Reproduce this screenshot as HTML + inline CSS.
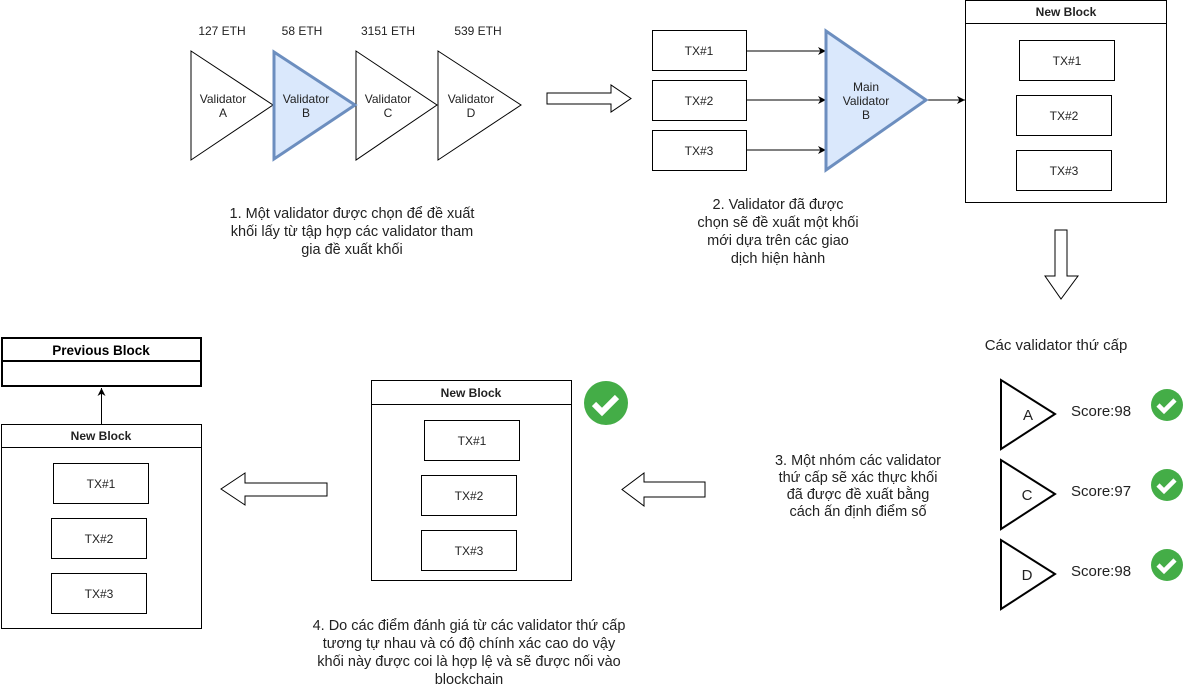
<!DOCTYPE html>
<html><head><meta charset="utf-8"><style>
html,body{margin:0;padding:0;background:#fff;}
svg{display:block;font-family:"Liberation Sans",Arial,sans-serif;}
text{font-size:12px;fill:#222;}
.t13{font-size:14.5px;}
.t15{font-size:15px;}
</style></head><body>
<svg width="1195" height="687" viewBox="0 0 1195 687" xmlns="http://www.w3.org/2000/svg">
<defs>
<marker id="ar" viewBox="0 0 10 10" refX="10" refY="5" markerWidth="8" markerHeight="8" markerUnits="userSpaceOnUse" orient="auto"><path d="M0,0 L10,5 L0,10 L3,5 z" fill="#000"/></marker>
</defs>
<g stroke="#000" fill="#fff" stroke-width="1">
<polygon points="191,51 191,160 273,105"/>
<polygon points="356,51 356,160 437,105"/>
<polygon points="438,51 438,160 521,105"/>
</g>
<polygon points="274,52 274,159 355,105" fill="#dae8fc" stroke="#6c8ebf" stroke-width="3"/>
<g text-anchor="middle">
<text x="222" y="35">127 ETH</text><text x="302" y="35">58 ETH</text><text x="388" y="35">3151 ETH</text><text x="478" y="35">539 ETH</text>
<text x="223" y="103">Validator</text><text x="223" y="117">A</text>
<text x="306" y="103">Validator</text><text x="306" y="117">B</text>
<text x="388" y="103">Validator</text><text x="388" y="117">C</text>
<text x="471" y="103">Validator</text><text x="471" y="117">D</text>
</g>
<polygon points="547,93 611,93 611,85 631,98.5 611,112 611,104 547,104" fill="#fff" stroke="#000"/>
<g fill="#fff" stroke="#000">
<rect x="652.5" y="30.5" width="94" height="40"/>
<rect x="652.5" y="80.5" width="94" height="40"/>
<rect x="652.5" y="130.5" width="94" height="40"/>
</g>
<g stroke="#000" marker-end="url(#ar)">
<line x1="747" y1="51" x2="826" y2="51"/>
<line x1="747" y1="100" x2="826" y2="100"/>
<line x1="747" y1="150" x2="826" y2="150"/>
<line x1="928" y1="100" x2="965" y2="100"/>
</g>
<polygon points="826,31 826,170 926,100" fill="#dae8fc" stroke="#6c8ebf" stroke-width="3"/>
<g text-anchor="middle">
<text x="699" y="55">TX#1</text><text x="699" y="105">TX#2</text><text x="699" y="155">TX#3</text>
<text x="866" y="91">Main</text><text x="866" y="105">Validator</text><text x="866" y="119">B</text>
</g>
<rect x="965.5" y="0.5" width="201" height="202" fill="#fff" stroke="#000"/>
<line x1="965" y1="23.5" x2="1167" y2="23.5" stroke="#000"/>
<g fill="#fff" stroke="#000">
<rect x="1019.5" y="40.5" width="95" height="40"/>
<rect x="1016.5" y="95.5" width="95" height="40"/>
<rect x="1016.5" y="150.5" width="95" height="40"/>
</g>
<g text-anchor="middle">
<text x="1066" y="16" style="font-weight:bold;font-size:12px">New Block</text>
<text x="1067" y="65">TX#1</text><text x="1064" y="120">TX#2</text><text x="1064" y="175">TX#3</text>
</g>
<polygon points="1055,230 1067,230 1067,276 1078,276 1061,299 1045,276 1055,276" fill="#fff" stroke="#000"/>
<text x="1056" y="350" text-anchor="middle" class="t15">Các validator thứ cấp</text>
<g stroke="#000" stroke-width="2" fill="#fff">
<polygon points="1001,380 1001,449 1055,414"/>
<polygon points="1001,460 1001,529 1055,494"/>
<polygon points="1001,540 1001,609 1055,574"/>
</g>
<g text-anchor="middle">
<text x="1028" y="420" class="t15">A</text><text x="1027" y="500" class="t15">C</text><text x="1027" y="580" class="t15">D</text>
</g>
<text x="1071" y="416" class="t15">Score:98</text>
<text x="1071" y="496" class="t15">Score:97</text>
<text x="1071" y="576" class="t15">Score:98</text>
<g>
<circle cx="1167" cy="405" r="16" fill="#44ad47"/><path d="M1158,405 l6,6 l11,-11" fill="none" stroke="#fff" stroke-width="4.5"/>
<circle cx="1167" cy="485" r="16" fill="#44ad47"/><path d="M1158,485 l6,6 l11,-11" fill="none" stroke="#fff" stroke-width="4.5"/>
<circle cx="1167" cy="565" r="16" fill="#44ad47"/><path d="M1158,565 l6,6 l11,-11" fill="none" stroke="#fff" stroke-width="4.5"/>
<circle cx="606" cy="403" r="22" fill="#44ad47"/><path d="M594,404 l8,8 l15,-15" fill="none" stroke="#fff" stroke-width="6"/>
</g>
<g text-anchor="middle">
<text x="858" y="465" class="t13">3. Một nhóm các validator</text>
<text x="858" y="482" class="t13">thứ cấp sẽ xác thực khối</text>
<text x="858" y="499" class="t13">đã được đề xuất bằng</text>
<text x="858" y="516" class="t13">cách ấn định điểm số</text>
</g>
<polygon points="705,482 644,482 644,473 622,489.5 644,506 644,497 705,497" fill="#fff" stroke="#000"/>
<polygon points="327,483 245,483 245,473 221,489 245,505 245,496 327,496" fill="#fff" stroke="#000"/>
<rect x="371.5" y="380.5" width="200" height="200" fill="#fff" stroke="#000"/>
<line x1="371" y1="404.5" x2="572" y2="404.5" stroke="#000"/>
<g fill="#fff" stroke="#000">
<rect x="424.5" y="420.5" width="95" height="40"/>
<rect x="421.5" y="475.5" width="95" height="40"/>
<rect x="421.5" y="530.5" width="95" height="40"/>
</g>
<g text-anchor="middle">
<text x="471" y="397" style="font-weight:bold">New Block</text>
<text x="472" y="445">TX#1</text><text x="469" y="500">TX#2</text><text x="469" y="555">TX#3</text>
</g>
<rect x="1.5" y="424.5" width="200" height="204" fill="#fff" stroke="#000"/>
<line x1="1" y1="447.5" x2="202" y2="447.5" stroke="#000"/>
<g fill="#fff" stroke="#000">
<rect x="53.5" y="463.5" width="95" height="40"/>
<rect x="51.5" y="518.5" width="95" height="40"/>
<rect x="51.5" y="573.5" width="95" height="40"/>
</g>
<g text-anchor="middle">
<text x="101" y="440" style="font-weight:bold">New Block</text>
<text x="101" y="488">TX#1</text><text x="99" y="543">TX#2</text><text x="99" y="598">TX#3</text>
</g>
<line x1="101.5" y1="424" x2="101.5" y2="388" stroke="#000" marker-end="url(#ar)"/>
<rect x="2" y="338" width="199" height="48" fill="#fff" stroke="#000" stroke-width="2"/>
<line x1="2" y1="361" x2="201" y2="361" stroke="#000" stroke-width="2"/>
<text x="101" y="355" text-anchor="middle" style="font-weight:bold;font-size:13.5px;fill:#000">Previous Block</text>
<g text-anchor="middle">
<text x="352" y="218" class="t13">1. Một validator được chọn để đề xuất</text>
<text x="352" y="236" class="t13">khối lấy từ tập hợp các validator tham</text>
<text x="352" y="254" class="t13">gia đề xuất khối</text>
<text x="778" y="209" class="t13">2. Validator đã được</text>
<text x="778" y="227" class="t13">chọn sẽ đề xuất một khối</text>
<text x="778" y="245" class="t13">mới dựa trên các giao</text>
<text x="778" y="263" class="t13">dịch hiện hành</text>
<text x="469" y="630" class="t13">4. Do các điểm đánh giá từ các validator thứ cấp</text>
<text x="469" y="648" class="t13">tương tự nhau và có độ chính xác cao do vậy</text>
<text x="469" y="666" class="t13">khối này được coi là hợp lệ và sẽ được nối vào</text>
<text x="469" y="684" class="t13">blockchain</text>
</g>
</svg>
</body></html>
